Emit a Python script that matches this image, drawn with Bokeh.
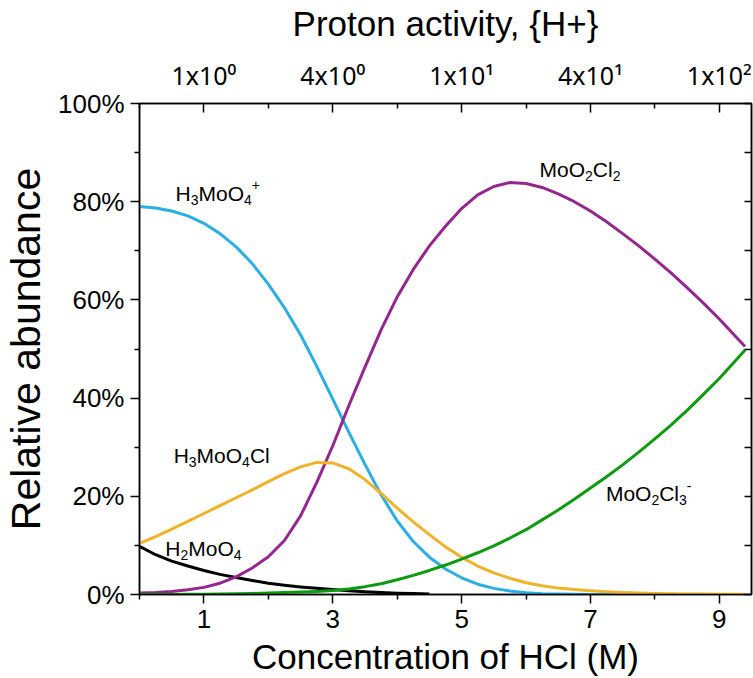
from bokeh.plotting import figure
from bokeh.models import Range1d, LinearAxis, FixedTicker, Label, PrintfTickFormatter, CustomJSTickFormatter
from bokeh.embed import file_html
from bokeh.resources import INLINE

# HCl concentration (M) at which the species fractions are given
HCL_M = [0.0, 0.25, 0.5, 0.75, 1.0, 1.25, 1.5, 1.75, 2.0, 2.25, 2.5, 2.75, 3.0, 3.25,
         3.5, 3.75, 4.0, 4.25, 4.5, 4.75, 5.0, 5.25, 5.5, 5.75, 6.0, 6.25, 6.5, 6.75,
         7.0, 7.25, 7.5, 7.75, 8.0, 8.25, 8.5, 8.75, 9.0, 9.25, 9.4]

# Relative abundance (%) of each Mo(VI) species
H3MOO4_PLUS = [79.0, 78.7, 78.1, 77.1, 75.6, 73.5, 70.8, 67.4, 63.2, 58.4, 52.9, 46.5,
               39.8, 33.0, 26.5, 20.3, 15.0, 10.8, 7.6, 5.2, 3.4, 2.1, 1.25, 0.7, 0.35,
               0.17, 0.08, 0.03, 0.01, 0, 0, 0, 0, 0, 0, 0, 0, 0, 0]
MOO2CL2 = [0.3, 0.4, 0.6, 0.95, 1.45, 2.3, 3.6, 5.4, 7.7, 11.0, 16.0, 22.8, 30.3, 38.5,
           46.3, 53.9, 60.6, 66.2, 71.0, 75.0, 78.6, 81.4, 83.1, 83.9, 83.7, 82.9, 81.6,
           80.0, 78.1, 75.9, 73.5, 71.0, 68.3, 65.5, 62.5, 59.4, 56.1, 52.6, 50.5]
H3MOO4CL = [10.4, 11.8, 13.3, 14.9, 16.5, 18.1, 19.7, 21.3, 23.0, 24.6, 26.0, 26.9, 26.8,
            25.6, 23.4, 20.6, 17.6, 14.8, 12.2, 9.7, 7.6, 5.8, 4.4, 3.3, 2.4, 1.8, 1.3,
            1.0, 0.75, 0.55, 0.4, 0.3, 0.22, 0.16, 0.12, 0.09, 0.06, 0.04, 0.03]
MOO2CL3_MINUS = [0, 0.01, 0.02, 0.04, 0.06, 0.1, 0.15, 0.22, 0.3, 0.4, 0.5, 0.62, 0.8, 1.1,
                 1.6, 2.2, 3.0, 3.9, 4.9, 6.0, 7.2, 8.5, 9.9, 11.5, 13.2, 15.2, 17.2, 19.4,
                 21.7, 24.0, 26.4, 29.0, 31.7, 34.5, 37.5, 40.7, 44.0, 47.6, 49.8]
H2MOO4 = [9.8, 8.1, 6.8, 5.8, 4.9, 4.1, 3.45, 2.85, 2.3, 1.9, 1.55, 1.25, 1.0, 0.75,
          0.55, 0.4, 0.28, 0.18, 0.1]

# Axis ticks
HCL_MAJOR = [1, 3, 5, 7, 9]
HCL_MINOR = [0, 2, 4, 6, 8]
PCT_MAJOR = [0, 20, 40, 60, 80, 100]
PCT_MINOR = [10, 30, 50, 70, 90]
# proton activity shown on the top axis at the HCl major ticks
ACTIVITY_LABELS = ["1x10\u2070", "4x10\u2070", "1x10\u00b9", "4x10\u00b9", "1x10\u00b2"]

FONT = "Liberation Sans"
BLUE, PURPLE, GOLD, GREEN, BLACK = "#2AAEE4", "#93278F", "#EEB32B", "#0E9A10", "#000000"

# Arial advance widths (per 1000 em) for composing formulas with sub/superscripts
ADV = {"H": 722, "M": 833, "o": 556, "O": 778, "C": 722, "l": 222, "x": 500,
       "0": 556, "1": 556, "2": 556, "3": 556, "4": 556, "+": 584, "-": 333}


def text_width(s, size):
    return sum(ADV[c] for c in s) / 1000.0 * size


def add_formula(p, x, y, parts, size, small, sub_dy=-6.5, sup_dy=8.0):
    dx = 0.0
    for txt, kind in parts:
        fs = size if kind == "n" else small
        dy = 0 if kind == "n" else (sub_dy if kind == "sub" else sup_dy)
        p.add_layout(Label(x=x, y=y, x_offset=dx, y_offset=dy, text=txt,
                           text_font=FONT, text_font_size=f"{fs}px",
                           text_baseline="middle", text_align="left", text_color="black"))
        dx += text_width(txt, fs)


p = figure(width=753, height=678, x_range=Range1d(0, 9.5), y_range=Range1d(0, 100),
           x_axis_location=None, y_axis_location=None,
           output_backend="svg", toolbar_location=None,
           min_border_left=139, min_border_right=2, min_border_top=102, min_border_bottom=84,
           background_fill_color="white", border_fill_color="white",
           outline_line_color="black", outline_line_width=1.5)
p.grid.visible = False

blank = CustomJSTickFormatter(code="return ''")

# left: relative abundance
yax = LinearAxis(ticker=FixedTicker(ticks=PCT_MAJOR, minor_ticks=PCT_MINOR),
                 formatter=PrintfTickFormatter(format="%d%%"),
                 axis_label="Relative abundance")
# bottom: HCl concentration
xax = LinearAxis(ticker=FixedTicker(ticks=HCL_MAJOR, minor_ticks=HCL_MINOR),
                 axis_label="Concentration of HCl (M)")
# top: proton activity
tax = LinearAxis(ticker=FixedTicker(ticks=HCL_MAJOR, minor_ticks=HCL_MINOR),
                 formatter=CustomJSTickFormatter(args=dict(labels=ACTIVITY_LABELS),
                                                 code="return labels[index]"),
                 axis_label="Proton activity, {H+}")
# right: mirrored ticks
rax = LinearAxis(ticker=FixedTicker(ticks=PCT_MAJOR + PCT_MINOR), formatter=blank)

for ax in (yax, xax, tax, rax):
    ax.axis_line_color = "black"
    ax.axis_line_width = 1.5
    ax.major_tick_line_color = "black"
    ax.major_tick_line_width = 1.5
    ax.minor_tick_line_color = "black"
    ax.minor_tick_line_width = 1.5
    ax.major_label_text_font = FONT
    ax.major_label_text_font_size = "26px"
    ax.major_label_text_color = "black"
    ax.axis_label_text_font = FONT
    ax.axis_label_text_font_style = "normal"
    ax.axis_label_text_color = "black"

for ax in (yax, xax):
    ax.major_tick_out = 9
    ax.major_tick_in = 0
    ax.minor_tick_out = 5
    ax.minor_tick_in = 0
    ax.major_label_standoff = 6

yax.axis_label_text_font_size = "41px"
yax.axis_label_standoff = 6
xax.axis_label_text_font_size = "35px"
xax.axis_label_standoff = 6

# the superscript digits all come from one face so they match in size
tax.major_label_text_font = "Noto Sans"
tax.major_label_text_font_size = "25px"
tax.major_tick_in = 9
tax.major_tick_out = 0
tax.minor_tick_in = 5
tax.minor_tick_out = 0
tax.major_label_standoff = 12
tax.axis_label_text_font_size = "35px"
tax.axis_label_standoff = 12

rax.major_tick_in = 7
rax.major_tick_out = 0
rax.minor_tick_in = 0
rax.minor_tick_out = 0
rax.major_label_standoff = 0

p.add_layout(yax, "left")
p.add_layout(xax, "below")
p.add_layout(tax, "above")
p.add_layout(rax, "right")

# species curves
p.line(HCL_M[:len(H2MOO4)], H2MOO4, line_color=BLACK, line_width=3, line_join="round")
p.line(HCL_M, H3MOO4_PLUS, line_color=BLUE, line_width=3, line_join="round")
p.line(HCL_M, MOO2CL2, line_color=PURPLE, line_width=3, line_join="round")
p.line(HCL_M, H3MOO4CL, line_color=GOLD, line_width=3, line_join="round")
p.line(HCL_M, MOO2CL3_MINUS, line_color=GREEN, line_width=3, line_join="round")

# species names
add_formula(p, 0.56, 81.7, [("H", "n"), ("3", "sub"), ("MoO", "n"), ("4", "sub"), ("+", "sup")], 21, 14)
add_formula(p, 0.53, 28.3, [("H", "n"), ("3", "sub"), ("MoO", "n"), ("4", "sub"), ("Cl", "n")], 21, 14)
add_formula(p, 0.40, 9.4, [("H", "n"), ("2", "sub"), ("MoO", "n"), ("4", "sub")], 21, 14)
add_formula(p, 6.21, 86.6, [("MoO", "n"), ("2", "sub"), ("Cl", "n"), ("2", "sub")], 21, 14)
add_formula(p, 7.24, 20.5, [("MoO", "n"), ("2", "sub"), ("Cl", "n"), ("3", "sub"), ("-", "sup")], 21, 14)

open("out.html", "w").write(file_html(p, INLINE))
